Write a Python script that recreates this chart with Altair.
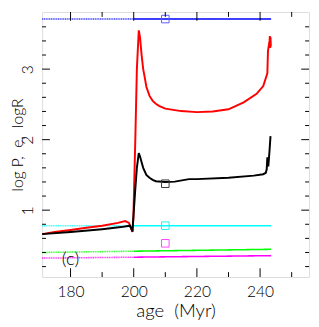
import altair as alt
import pandas as pd

# ---- data ----
red_age = [171, 175, 180, 185, 190, 195, 197.3, 198.5, 199.6, 199.9, 200.5, 201.0, 201.6, 202.0, 202.5, 203.0,
           203.5, 204, 205, 206, 207, 208, 210, 215, 220, 225, 230, 234.8, 238.9, 241.0, 242.3, 242.5, 243.0,
           243.1, 243.2, 243.3, 243.4]
red_val = [0.66, 0.69, 0.72, 0.75, 0.78, 0.82, 0.845, 0.82, 0.69, 0.9, 2.0, 3.0, 3.55, 3.45, 3.2, 3.0,
           2.88, 2.75, 2.62, 2.55, 2.51, 2.48, 2.44, 2.405, 2.39, 2.40, 2.43, 2.53, 2.65, 2.76, 2.94, 3.26, 3.40,
           3.47, 3.3, 3.45, 3.32]

black_age = [171, 180, 190, 196, 198.8, 199.6, 199.9, 200.5, 201.0, 201.6, 202.0, 202.5, 203, 204, 205, 206,
             207, 210, 213, 217.5, 220, 230, 238, 241, 241.8, 242.1, 242.3, 242.6, 243.0, 243.3]
black_val = [0.66, 0.69, 0.73, 0.76, 0.78, 0.70, 0.9, 1.3, 1.6, 1.81, 1.76, 1.68, 1.6, 1.5, 1.46, 1.43,
             1.41, 1.40, 1.405, 1.44, 1.44, 1.46, 1.49, 1.51, 1.53, 1.58, 1.75, 1.62, 1.85, 2.05]

flat_age = [171, 200, 243.5]
blue_val = [3.71, 3.71, 3.71]
cyan_val = [0.78, 0.78, 0.78]
green_val = [0.40, 0.418, 0.445]
magenta_val = [0.32, 0.333, 0.355]

sq_age = [210, 210, 210, 210]
sq_val = [3.71, 1.375, 0.78, 0.53]
sq_series = ["blue", "black", "cyan", "magenta"]

label_age = [180]
label_val = [0.31]
label_text = ["(c)"]

x_major = [180, 200, 220, 240]
x_minor = [190, 210, 230, 250]
y_major = [1, 2, 3]
y_minor = [0.2, 0.4, 0.6, 0.8, 1.2, 1.4, 1.6, 1.8, 2.2, 2.4, 2.6, 2.8, 3.2, 3.4, 3.6]

series_names = ["red", "black", "blue", "cyan", "green", "magenta"]
series_colors = ["#ff0000", "#000000", "#0000ff", "#00ffff", "#00ff00", "#ff00ff"]
square_colors = ["#ff0000", "#333333", "#5a5aff", "#22eeee", "#00ff00", "#ff44ff"]

W, H = 274, 272
FONT = "Lato"
FW = 300

xs = alt.Scale(domain=[171, 255.5], nice=False, zero=False)
ys = alt.Scale(domain=[0.052, 3.81], nice=False, zero=False)
cs = alt.Scale(domain=series_names, range=series_colors)
cs_sq = alt.Scale(domain=series_names, range=square_colors)

# ---- tables ----
main_rows = []
for i, (a, v) in enumerate(zip(red_age, red_val)):
    main_rows.append(dict(age=a, val=v, series="red", o=i))
for i, (a, v) in enumerate(zip(black_age, black_val)):
    main_rows.append(dict(age=a, val=v, series="black", o=i))
main_df = pd.DataFrame(main_rows)

flat_rows = []
for name, vals in [("cyan", cyan_val), ("green", green_val), ("magenta", magenta_val), ("blue", blue_val)]:
    flat_rows.append(dict(age=flat_age[0], val=vals[0], series=name, seg=name + "_d", kind="dot", o=0))
    flat_rows.append(dict(age=flat_age[1], val=vals[1], series=name, seg=name + "_d", kind="dot", o=1))
    flat_rows.append(dict(age=flat_age[1], val=vals[1], series=name, seg=name + "_s", kind="solid", o=0))
    flat_rows.append(dict(age=flat_age[2], val=vals[2], series=name, seg=name + "_s", kind="solid", o=1))
flat_df = pd.DataFrame(flat_rows)

sq_df = pd.DataFrame(dict(age=sq_age, val=sq_val, series=sq_series))
lab_df = pd.DataFrame(dict(age=label_age, val=label_val, text=label_text))

xmaj_df = pd.DataFrame(dict(age=x_major))
xmin_df = pd.DataFrame(dict(age=x_minor))
ymaj_df = pd.DataFrame(dict(val=y_major))
ymin_df = pd.DataFrame(dict(val=y_minor))

X = alt.X("age:Q", scale=xs, title="age\u00a0\u00a0(Myr)",
          axis=alt.Axis(values=x_major, format="d", ticks=False, domain=False, grid=False,
                        labelFont=FONT, labelFontSize=16, labelFontWeight=FW, labelPadding=7,
                        labelColor="#000",
                        titleFont=FONT, titleFontSize=19, titleFontWeight=FW, titlePadding=3,
                        titleColor="#000"))
Y = alt.Y("val:Q", scale=ys, title="log\u00a0P,\u00a0\u00a0e,\u00a0\u00a0logR",
          axis=alt.Axis(values=y_major, format="d", ticks=False, domain=False, grid=False,
                        labelAngle=-90, labelAlign="center", labelBaseline="bottom",
                        labelFont=FONT, labelFontSize=16, labelFontWeight=FW, labelPadding=7,
                        labelColor="#000",
                        titleFont=FONT, titleFontSize=16, titleFontWeight=FW,
                        titleX=-17, titleBaseline="bottom",
                        titleColor="#000"))

flat = alt.Chart(flat_df).mark_line(strokeWidth=1.6).encode(
    x=X, y=Y,
    color=alt.Color("series:N", scale=cs, legend=None),
    detail="seg:N",
    strokeDash=alt.StrokeDash("kind:N", scale=alt.Scale(domain=["dot", "solid"], range=[[1.2, 0.6], [1, 0]]),
                              legend=None),
    opacity=alt.Opacity("kind:N", scale=alt.Scale(domain=["dot", "solid"], range=[0.75, 1]), legend=None),
    order="o:Q",
)

main = alt.Chart(main_df).mark_line(strokeWidth=2).encode(
    x=alt.X("age:Q", scale=xs), y=alt.Y("val:Q", scale=ys),
    color=alt.Color("series:N", scale=cs, legend=None),
    detail="series:N",
    order="o:Q",
)

squares = alt.Chart(sq_df).mark_point(shape="square", filled=False, size=60, strokeWidth=1, opacity=1).encode(
    x=alt.X("age:Q", scale=xs), y=alt.Y("val:Q", scale=ys),
    stroke=alt.Stroke("series:N", scale=cs_sq, legend=None),
)

label = alt.Chart(lab_df).mark_text(font=FONT, fontSize=19, fontWeight=FW, color="#000").encode(
    x=alt.X("age:Q", scale=xs), y=alt.Y("val:Q", scale=ys), text="text:N"
)

tick_color = "#000"
xt_bot_maj = alt.Chart(xmaj_df).mark_rule(color=tick_color, strokeWidth=1).encode(
    x=alt.X("age:Q", scale=xs), y=alt.value(H), y2=alt.value(H - 9))
xt_top_maj = alt.Chart(xmaj_df).mark_rule(color=tick_color, strokeWidth=1).encode(
    x=alt.X("age:Q", scale=xs), y=alt.value(0), y2=alt.value(9))
xt_bot_min = alt.Chart(xmin_df).mark_rule(color=tick_color, strokeWidth=1).encode(
    x=alt.X("age:Q", scale=xs), y=alt.value(H), y2=alt.value(H - 5))
xt_top_min = alt.Chart(xmin_df).mark_rule(color=tick_color, strokeWidth=1).encode(
    x=alt.X("age:Q", scale=xs), y=alt.value(0), y2=alt.value(5))
yt_l_maj = alt.Chart(ymaj_df).mark_rule(color=tick_color, strokeWidth=1).encode(
    y=alt.Y("val:Q", scale=ys), x=alt.value(0), x2=alt.value(8))
yt_r_maj = alt.Chart(ymaj_df).mark_rule(color=tick_color, strokeWidth=1).encode(
    y=alt.Y("val:Q", scale=ys), x=alt.value(W), x2=alt.value(W - 8))
yt_l_min = alt.Chart(ymin_df).mark_rule(color=tick_color, strokeWidth=1).encode(
    y=alt.Y("val:Q", scale=ys), x=alt.value(0), x2=alt.value(4))
yt_r_min = alt.Chart(ymin_df).mark_rule(color=tick_color, strokeWidth=1).encode(
    y=alt.Y("val:Q", scale=ys), x=alt.value(W), x2=alt.value(W - 4))

chart = alt.layer(
    flat, main, squares, label,
    xt_bot_maj, xt_top_maj, xt_bot_min, xt_top_min,
    yt_l_maj, yt_r_maj, yt_l_min, yt_r_min,
).properties(
    width=W, height=H,
    autosize=alt.AutoSizeParams(type="none"),
    padding={"left": 35, "top": 0, "right": 2, "bottom": 40},
).configure_view(
    stroke="#000", strokeWidth=1
).configure(background="white")

chart.save("out.html", embed_options={"renderer": "svg", "actions": False})
